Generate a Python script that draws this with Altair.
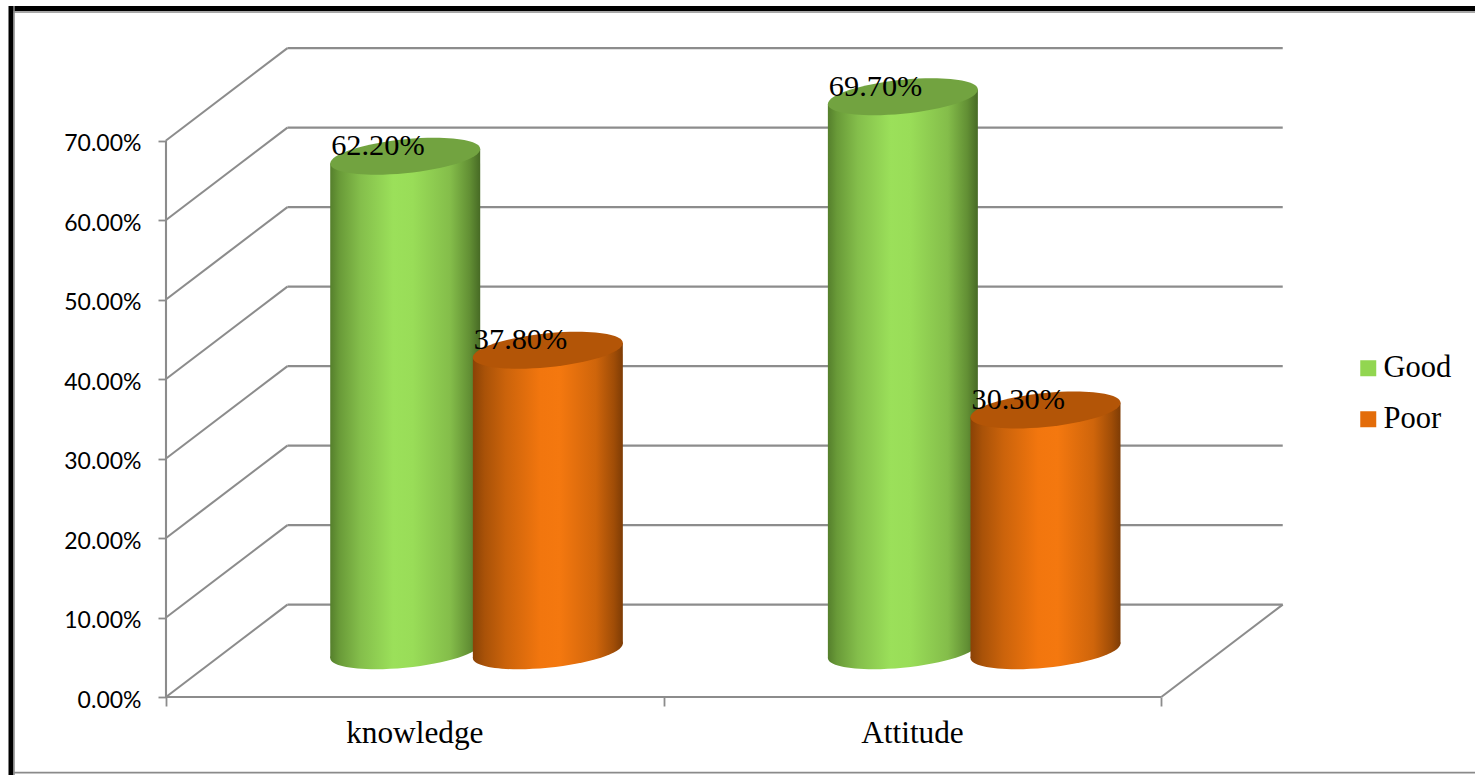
import altair as alt
import pandas as pd

# Survey results per domain
categories = ["knowledge", "Attitude"]
series_names = ["Good", "Poor"]
good_values = [0.622, 0.697]
poor_values = [0.378, 0.303]
legend_colors = ["#92D650", "#E36C09"]
cap_colors = ["#72A340", "#B35507"]
grid_levels = [0, 0.1, 0.2, 0.3, 0.4, 0.5, 0.6, 0.7]

# Oblique projection: how far the back wall is shifted, in scale units
DEPTH_X = 0.244
DEPTH_Y = 0.1162
BAR_OFFSET = 0.1433
BAR_WIDTH = 0.3014
BAR_SHIFT = 0.002
TILT = 0.00906
PX_X = 497.65
PX_Y = 795.0
GRID = "#8C8C8C"

x_scale = alt.Scale(domain=[0, 1309 / PX_X], nice=False, zero=False)
y_scale = alt.Scale(domain=[0, 650 / PX_Y], nice=False, zero=False)
x_axis = alt.Axis(
    values=[0, 1, 2], labels=False, title=None, domain=False, grid=False,
    tickSize=9, tickColor=GRID, tickWidth=1.8)
y_axis = alt.Axis(
    values=grid_levels, format=".2%", title=None, domain=False, grid=False,
    tickSize=8, tickColor=GRID, tickWidth=1.8, labelPadding=17,
    labelFont="Lato", labelFontSize=23, labelColor="#000000", labelOffset=3)


def ellipse_path(rx_px=75.0, ry_px=17.0, shear_px=7.2):
    """Sheared ellipse as four Bezier arcs, normalised for a -1..1 symbol box."""
    k = 0.5523
    unit = [(1, 0), (1, k), (k, 1), (0, 1), (-k, 1), (-1, k), (-1, 0),
            (-1, -k), (-k, -1), (0, -1), (k, -1), (1, -k), (1, 0)]
    pts = [(c, (-shear_px * c + ry_px * s) / rx_px) for c, s in unit]
    f = lambda p: f"{p[0]:.4f},{p[1]:.4f}"
    d = "M" + f(pts[0])
    for i in range(1, 13, 3):
        d += " C" + " ".join(f(p) for p in pts[i:i + 3])
    return d + " Z"


ELLIPSE = ellipse_path()
bars = []
for c_i, cat in enumerate(categories):
    for s_i, (name, vals) in enumerate(zip(series_names, [good_values, poor_values])):
        sign = -1 if s_i == 0 else 1
        bars.append({
            "category": cat,
            "series": name,
            "value": vals[c_i],
            "cx": c_i + 0.5 + sign * BAR_OFFSET + DEPTH_X / 2 + BAR_SHIFT,
            "top": vals[c_i] + DEPTH_Y / 2,
            "base": DEPTH_Y / 2,
        })
bars = pd.DataFrame(bars)

body_rows = []
for _, b in bars.iterrows():
    for side in (-1, 1):
        body_rows.append({
            "series": b["series"], "category": b["category"],
            "x": b["cx"] + side * BAR_WIDTH / 2,
            "y": b["top"] + side * TILT,
            "y2": b["base"] + side * TILT,
        })
bodies = pd.DataFrame(body_rows)

gradients = {
    "Good": alt.Gradient(gradient="linear", x1=0, x2=1, y1=0, y2=0, stops=[
        alt.GradientStop(offset=0, color="#557F2C"),
        alt.GradientStop(offset=0.06, color="#699A38"),
        alt.GradientStop(offset=0.2, color="#84BE4B"),
        alt.GradientStop(offset=0.42, color="#9BE05A"),
        alt.GradientStop(offset=0.55, color="#99DD58"),
        alt.GradientStop(offset=0.8, color="#84BD4A"),
        alt.GradientStop(offset=0.93, color="#628F34"),
        alt.GradientStop(offset=1, color="#476A25"),
    ]),
    "Poor": alt.Gradient(gradient="linear", x1=0, x2=1, y1=0, y2=0, stops=[
        alt.GradientStop(offset=0, color="#8A4206"),
        alt.GradientStop(offset=0.08, color="#A95208"),
        alt.GradientStop(offset=0.22, color="#CB630B"),
        alt.GradientStop(offset=0.45, color="#F2760E"),
        alt.GradientStop(offset=0.58, color="#F4780F"),
        alt.GradientStop(offset=0.82, color="#CF650B"),
        alt.GradientStop(offset=0.94, color="#A04D07"),
        alt.GradientStop(offset=1, color="#7E3C05"),
    ]),
}

x_field = lambda f="x": alt.X(f"{f}:Q", scale=x_scale, axis=x_axis)
y_field = lambda f="y": alt.Y(f"{f}:Q", scale=y_scale, axis=y_axis)

# Walls and floor of the box
back_lines = pd.DataFrame({"y": [v + DEPTH_Y for v in grid_levels]})
back_lines["x"] = DEPTH_X
back_lines["x2"] = 2 + DEPTH_X
side_lines = pd.DataFrame({"x": 0.0, "y": grid_levels})
side_lines["x2"] = DEPTH_X
side_lines["y2"] = side_lines["y"] + DEPTH_Y
edges = pd.DataFrame({
    "x": [0, 0, 2], "y": [0, 0, 0],
    "x2": [2, 0, 2 + DEPTH_X], "y2": [0, 0.7, DEPTH_Y],
})
walls = pd.concat([back_lines.assign(y2=back_lines["y"]), side_lines, edges])

axes_layer = alt.Chart(walls).mark_rule(color=GRID, strokeWidth=2.1).encode(
    x=x_field(), x2="x2:Q", y=y_field(), y2="y2:Q",
)

layers = [axes_layer]

# Cylinders: Good first, Poor painted over it
for i, name in enumerate(series_names):
    sel = bars[bars["series"] == name]
    layers.append(
        alt.Chart(bodies[bodies["series"] == name]).mark_area(fill=gradients[name]).encode(
            x=x_field(), y=y_field(), y2="y2:Q", detail="category:N")
    )
    layers.append(
        alt.Chart(sel).mark_point(shape=ELLIPSE, size=22500, filled=True,
                                  fill=gradients[name], opacity=1, strokeWidth=0).encode(
            x=x_field("cx"), y=y_field("base"))
    )
    layers.append(
        alt.Chart(sel).mark_point(shape=ELLIPSE, size=22500, filled=True,
                                  fill=cap_colors[i], opacity=1, strokeWidth=0).encode(
            x=x_field("cx"), y=y_field("top"))
    )

# Value labels sit on the cap of each cylinder
layers.append(
    alt.Chart(bars).mark_text(font="Liberation Serif", fontSize=30.3, align="left",
                              baseline="alphabetic", color="#000000", dx=-74, dy=-1).encode(
        x=x_field("cx"), y=y_field("top"), text=alt.Text("value:Q", format=".2%"))
)

# Category names under the floor
cat_frame = pd.DataFrame({"label": categories, "x": [0.5, 1.5], "y": [0, 0]})
layers.append(
    alt.Chart(cat_frame).mark_text(font="Liberation Serif", fontSize=31.3, align="center",
                                   baseline="alphabetic", color="#000000", dy=46).encode(
        x=x_field(), y=y_field(), text="label:N")
)

# Invisible marks that carry the legend
layers.append(
    alt.Chart(pd.DataFrame({"series": series_names, "x": [0, 0], "y": [0, 0]}))
    .mark_square(opacity=0).encode(
        x=x_field(), y=y_field(),
        color=alt.Color("series:N", scale=alt.Scale(domain=series_names, range=legend_colors),
                        legend=alt.Legend(
                            orient="none", legendX=1187, legendY=306, title=None,
                            symbolType="square", symbolSize=256, symbolOpacity=1,
                            labelFont="Liberation Serif", labelFontSize=30.5,
                            labelColor="#000000", labelLimit=200, labelOffset=0,
                            rowPadding=20, padding=0, symbolStrokeWidth=0)))
)

# Page frame
frame = [
    (-157, 1309, -38.5, 5, "#000000"),
    (-157, 1309, -35, 1.5, "#8A8A8A"),
    (-152, 1309, 725.6, 1.6, "#8A8A8A"),
]
for x0, x1, y0, w, col in frame:
    layers.append(alt.Chart(pd.DataFrame({"a": [0]})).mark_rule(color=col, strokeWidth=w).encode(
        x=alt.value(x0), x2=alt.value(x1), y=alt.value(y0)))
for x0, w, col in [(-155, 5, "#000000"), (-152, 1.5, "#8A8A8A")]:
    layers.append(alt.Chart(pd.DataFrame({"a": [0]})).mark_rule(color=col, strokeWidth=w).encode(
        x=alt.value(x0), y=alt.value(-41), y2=alt.value(728)))

chart = alt.layer(*layers).properties(
    width=1309, height=650,
    padding={"left": 166, "top": 47, "right": 0, "bottom": 78},
    autosize=alt.AutoSizeParams(type="none"),
    background="#FFFFFF",
).configure_view(stroke=None)

chart.save("out.html", embed_options={"renderer": "svg", "actions": False})
